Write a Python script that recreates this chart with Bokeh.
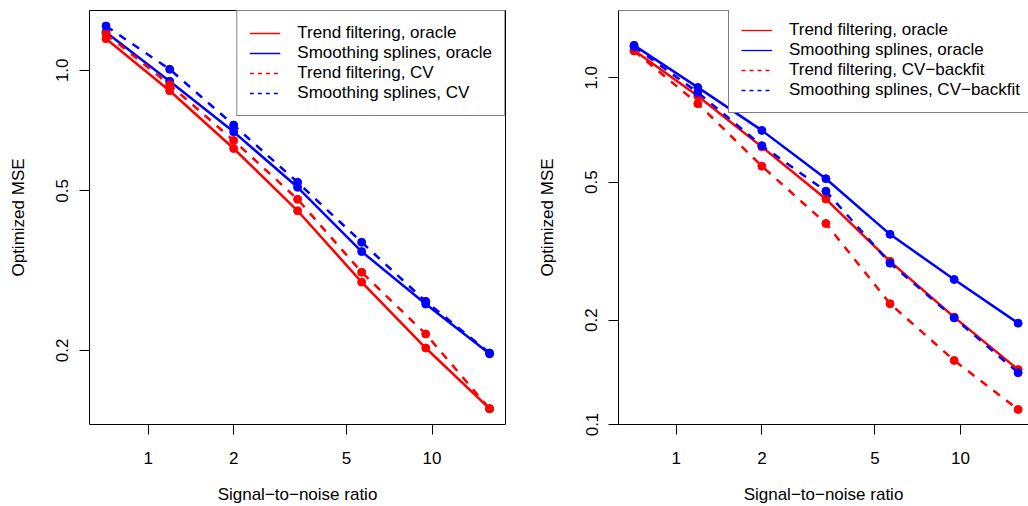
import numpy as np
from bokeh.plotting import figure
from bokeh.layouts import row
from bokeh.models import FixedTicker, Legend, LegendItem, Range1d, Span
from bokeh.embed import file_html
from bokeh.resources import INLINE

# ---------------- data ----------------
snr = [0.71, 1.19, 2.0, 3.36, 5.65, 9.5, 15.95]

x_ticks = [1, 2, 5, 10]
x_tick_labels = ["1", "2", "5", "10"]

# left panel
tf_oracle_l = [1.199, 0.889, 0.638, 0.446, 0.296, 0.2027, 0.143]
ss_oracle_l = [1.245, 0.939, 0.702, 0.5105, 0.3528, 0.261, 0.196]
tf_cv_l = [1.234, 0.920, 0.668, 0.4765, 0.3134, 0.2197, 0.143]
ss_cv_l = [1.29, 1.006, 0.730, 0.5253, 0.3723, 0.265, 0.197]
y_ticks_l = [0.2, 0.5, 1.0]
y_tick_labels_l = ["0.2", "0.5", "1.0"]
legend_l = ["Trend filtering, oracle", "Smoothing splines, oracle",
            "Trend filtering, CV", "Smoothing splines, CV"]

# right panel
tf_oracle_r = [1.20, 0.886, 0.632, 0.4468, 0.2955, 0.204, 0.144]
ss_oracle_r = [1.24, 0.938, 0.705, 0.5116, 0.3535, 0.262, 0.196]
tf_cvb_r = [1.195, 0.842, 0.556, 0.380, 0.223, 0.153, 0.1105]
ss_cvb_r = [1.23, 0.907, 0.637, 0.471, 0.292, 0.203, 0.141]
y_ticks_r = [0.1, 0.2, 0.5, 1.0]
y_tick_labels_r = ["0.1", "0.2", "0.5", "1.0"]
legend_r = ["Trend filtering, oracle", "Smoothing splines, oracle",
            "Trend filtering, CV\u2212backfit", "Smoothing splines, CV\u2212backfit"]

x_title = "Signal\u2212to\u2212noise ratio"
y_title = "Optimized MSE"

RED = "#FF0000"
BLUE = "#0000FF"
FONT = "Liberation Sans"
FS = "17px"
H = 506


def make_panel(width, border_left, border_right, xr, yr, series, labels,
               yticks, ylabels, outline):
    p = figure(width=width, height=H, x_axis_type="log", y_axis_type="log",
               x_range=Range1d(*xr), y_range=Range1d(*yr),
               output_backend="svg", toolbar_location=None,
               min_border_left=border_left, min_border_right=border_right,
               min_border_top=10, min_border_bottom=81)
    p.grid.visible = False
    p.background_fill_color = "white"
    p.border_fill_color = "white"
    if outline:
        p.outline_line_color = "black"
        p.outline_line_width = 1
        p.axis.axis_line_color = None
    else:
        p.outline_line_color = None
        p.axis.axis_line_color = "black"
        p.add_layout(Span(location=yr[1], dimension="width",
                          line_color="black", line_width=1))

    p.xaxis.ticker = FixedTicker(ticks=x_ticks)
    p.xaxis.major_label_overrides = {t: l for t, l in zip(x_ticks, x_tick_labels)}
    p.yaxis.ticker = FixedTicker(ticks=yticks)
    p.yaxis.major_label_overrides = {t: l for t, l in zip(yticks, ylabels)}
    p.yaxis.major_label_orientation = "vertical"

    for ax in p.axis:
        ax.major_tick_out = 10
        ax.major_tick_in = 0
        ax.major_tick_line_color = "black"
        ax.minor_tick_line_color = None
        ax.major_label_text_font = FONT
        ax.major_label_text_font_size = FS
        ax.major_label_text_color = "black"
        ax.axis_label_text_font = FONT
        ax.axis_label_text_font_size = FS
        ax.axis_label_text_font_style = "normal"
        ax.axis_label_text_color = "black"

    p.xaxis.axis_label = x_title
    p.xaxis.major_label_standoff = 17
    p.xaxis.axis_label_standoff = 18
    p.yaxis.axis_label = y_title
    p.yaxis.major_label_standoff = 11
    p.yaxis.axis_label_standoff = 26

    styles = [(RED, "solid"), (BLUE, "solid"), (RED, "8 8"), (BLUE, "8 8")]
    items = []
    for ys, (c, d), lab in zip(series, styles, labels):
        p.line(snr, ys, line_color=c, line_width=2.5, line_dash=d)
        p.scatter(snr, ys, size=8, fill_color=c, line_color=c)
        dummy = p.line(x=[1.0], y=[float("nan")], line_color=c, line_width=1.3,
                       line_dash=("solid" if d == "solid" else "4 4"))
        items.append(LegendItem(label=lab, renderers=[dummy]))
    return p, items


def style_legend(leg):
    leg.label_text_font = FONT
    leg.label_text_font_size = FS
    leg.label_text_color = "black"
    leg.glyph_width = 31
    leg.glyph_height = 20
    leg.label_height = 20
    leg.label_standoff = 17
    leg.padding = 12
    leg.spacing = 0
    leg.margin = 0
    leg.border_line_color = "black"
    leg.border_line_width = 1
    leg.background_fill_color = "white"
    leg.background_fill_alpha = 1.0


p1, items1 = make_panel(515, 89, 10, (0.621, 18.15), (0.1306, 1.41),
                        [tf_oracle_l, ss_oracle_l, tf_cv_l, ss_cv_l],
                        legend_l, y_ticks_l, y_tick_labels_l, True)
leg1 = Legend(items=items1, location="top_right")
style_legend(leg1)
p1.add_layout(leg1, "center")

p2, items2 = make_panel(513, 103, 0, (0.626, 17.35), (0.1, 1.563),
                        [tf_oracle_r, ss_oracle_r, tf_cvb_r, ss_cvb_r],
                        legend_r, y_ticks_r, y_tick_labels_r, False)
leg2 = Legend(items=items2, location=(110, 311))
style_legend(leg2)
p2.add_layout(leg2, "center")

layout = row(p1, p2)
open("out.html", "w").write(file_html(layout, INLINE))
